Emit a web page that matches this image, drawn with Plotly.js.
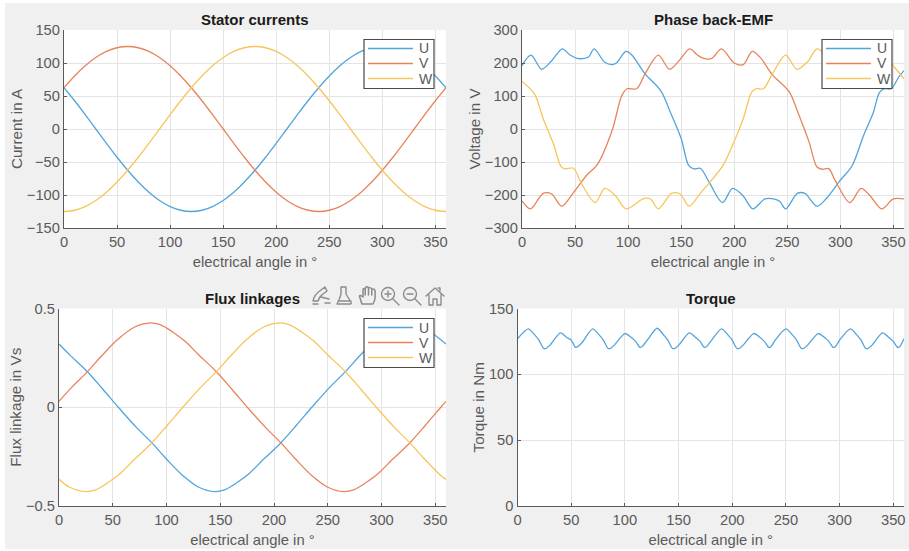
<!DOCTYPE html>
<html><head><meta charset="utf-8"><script src="https://cdn.plot.ly/plotly-3.0.1.min.js"></script>
<style>html,body{margin:0;padding:0;background:#fff}#c{width:909px;height:551px}</style></head>
<body><div id="c"></div><script>
const W_=909,H_=551;
const seriesNames=['U','V','W'];
const currentAngle=[0,10,20,30,40,50,60,70,80,90,100,110,120,130,140,150,160,170,180,190,200,210,220,230,240,250,260,270,280,290,300,310,320,330,340,350,360];
const currentU=[62.5,42.8,21.7,0,-21.7,-42.8,-62.5,-80.3,-95.8,-108.3,-117.5,-123.1,-125,-123.1,-117.5,-108.3,-95.8,-80.3,-62.5,-42.8,-21.7,0,21.7,42.8,62.5,80.3,95.8,108.3,117.5,123.1,125,123.1,117.5,108.3,95.8,80.3,62.5];
const currentV=[62.5,80.3,95.8,108.3,117.5,123.1,125,123.1,117.5,108.3,95.8,80.3,62.5,42.8,21.7,0,-21.7,-42.8,-62.5,-80.3,-95.8,-108.3,-117.5,-123.1,-125,-123.1,-117.5,-108.3,-95.8,-80.3,-62.5,-42.8,-21.7,0,21.7,42.8,62.5];
const currentW=[-125,-123.1,-117.5,-108.3,-95.8,-80.3,-62.5,-42.8,-21.7,0,21.7,42.8,62.5,80.3,95.8,108.3,117.5,123.1,125,123.1,117.5,108.3,95.8,80.3,62.5,42.8,21.7,0,-21.7,-42.8,-62.5,-80.3,-95.8,-108.3,-117.5,-123.1,-125];

const emfAngleU=[0,8.5,18.5,28,38,45,52,59,63,68,78,85,89,98,103.5,116,131,140,150,157,162,168,177,189,198.5,208.5,217.5,229,237,243,248.5,259.5,266.6,278,287,300,311,322,331,337,342,348,355,360];
const emfU=[192,224,181,207,243,225,214,214,219,243,202,195,200,235,224,167,115,49,-29,-110,-121,-119,-165,-223,-180,-203,-242,-212,-212,-220,-242,-195,-195,-234,-210,-155,-112,-19,49,111,122,122,157,177];
const emfAngleV=[0,8,20,28,37.5,48,61,71,85,94,99,108,116,128.5,139,148,158,165,171,179,188,200,208.5,217,224.5,236,252,260.5,270.5,278,283,289,295,309,319.5,328,339,350,360];
const emfV=[-218,-242,-195,-197,-234,-195,-140,-108,-4,101,122,122,167,224,181,207,243,225,214,214,243,200,195,235,217,164,112,46,-39,-115,-122,-120,-155,-223,-180,-202,-242,-212,-212];
const emfAngleW=[0,11.6,20,29.5,37,40.5,48.5,56,69,78,88,98,114.5,121,128.5,141,149,157.5,168,182,190,200.5,208.5,216.5,221,227.5,235.5,248.5,259,270,278,291,299,308,318,325,329,338,351,360];
const emfW=[144,107,31,-44,-115,-121,-119,-165,-223,-180,-202,-242,-211,-212,-242,-195,-197,-234,-195,-142,-107,-34,31,112,122,122,164,224,181,207,243,214,214,243,202,195,200,235,187,152];

const fluxAngleU=[0,10,26,41,56,72,86,100,115,130,145,154,166,177,190,206,221,236,252,266,280,295,310,325,334,346,360];
const fluxU=[.32,.265,.182,.09,-.005,-.102,-.178,-.262,-.345,-.405,-.427,-.418,-.38,-.335,-.265,-.182,-.09,.005,.102,.178,.262,.345,.405,.427,.418,.38,.32];
const fluxAngleV=[0,12,26,40,55,70,85,94,106,117,130,146,161,176,192,206,220,235,250,265,274,286,297,310,326,341,356,360];
const fluxV=[.03,.102,.178,.262,.345,.405,.427,.418,.38,.335,.265,.182,.09,-.005,-.102,-.178,-.262,-.345,-.405,-.427,-.418,-.38,-.335,-.265,-.182,-.09,.005,.03];
const fluxAngleW=[0,10,25,34,46,57,70,86,101,116,132,146,160,175,190,205,214,226,237,250,266,281,296,312,326,340,355,360];
const fluxW=[-.365,-.405,-.427,-.418,-.38,-.335,-.265,-.182,-.09,.005,.102,.178,.262,.345,.405,.427,.418,.38,.335,.265,.182,.09,-.005,-.102,-.178,-.262,-.345,-.365];

const torqueAngle=[0,10,16,20,24,26,30,40,46,50,54,56,60,70,76,80,84,86,90,100,106,110,114,116,120,130,136,140,144,146,150,160,166,170,174,176,180,190,196,200,204,206,210,220,226,230,234,236,240,250,256,260,264,266,270,280,286,290,294,296,300,310,316,320,324,326,330,340,346,350,354,356,360];
const torque=[127,134.5,130,126,120,119.5,122,131.5,128,126,120.5,121,124,134.5,130,126,120,119.5,122,131,128,125,120.5,121,125,135,130,126,120,119.5,122,131.5,128,125,120.5,121,125,134.5,130,126,120,119.5,122,131,128,125,120.5,121,126,134.5,130,126,120,119.5,122,131,128,125,120.5,121,126,134.5,130,126,120,119.5,122,131.5,128,125,120.5,121,127];

const colors=['#52a4dc','#e8845c','#f7c55c'];
const axisCol='#5a5a5a',gridCol='#e4e4e4',textCol='#5a5a5a';
const font='"Liberation Sans",Arial,sans-serif';

function line(x,y,i,ax,sm){return {x:x,y:y,name:seriesNames[i],type:'scatter',mode:'lines',xaxis:'x'+ax,yaxis:'y'+ax,showlegend:false,hoverinfo:'skip',
  line:{color:colors[i],width:1.3,shape:'spline',smoothing:sm}};}
const data=[
 line(currentAngle,currentU,0,'',1),line(currentAngle,currentV,1,'',1),line(currentAngle,currentW,2,'',1),
 line(emfAngleU,emfU,0,'2',.9),line(emfAngleV,emfV,1,'2',.9),line(emfAngleW,emfW,2,'2',.9),
 line(fluxAngleU,fluxU,0,'3',1),line(fluxAngleV,fluxV,1,'3',1),line(fluxAngleW,fluxW,2,'3',1),
 line(torqueAngle,torque,0,'4',.7)
];
const fx=p=>p/W_, fy=p=>1-p/H_;
function xax(l,r,anchor){return {domain:[fx(l),fx(r)],range:[0,360],dtick:50,tick0:0,anchor:anchor,showgrid:true,gridcolor:gridCol,gridwidth:1.3,zeroline:false,showline:true,linecolor:axisCol,linewidth:1.3,ticks:'inside',ticklen:3,tickcolor:axisCol,tickfont:{size:14.7,color:textCol,family:font},title:{text:'electrical angle in °',font:{size:14.8,color:textCol,family:font},standoff:7},automargin:false};}
function yax(t,b,range,dt,title,anchor){return {domain:[fy(b),fy(t)],range:range,dtick:dt,anchor:anchor,showgrid:true,gridcolor:gridCol,gridwidth:1.3,zeroline:false,showline:true,linecolor:axisCol,linewidth:1.3,ticks:'inside',ticklen:3,tickcolor:axisCol,tickfont:{size:14.7,color:textCol,family:font},title:{text:title,font:{size:15.2,color:textCol,family:font},standoff:0},automargin:false};}
function ttl(t,x,y){return {text:'<b>'+t+'</b>',xref:'paper',yref:'paper',x:fx(x),y:fy(y),xanchor:'center',yanchor:'middle',showarrow:false,font:{size:15,color:'#1a1a1a',family:font}};}
function panel(l,r,t,b){return {type:'rect',xref:'paper',yref:'paper',x0:fx(l),x1:fx(r),y0:fy(b),y1:fy(t),fillcolor:'#fff',line:{width:0},layer:'below'};}
const legendShapes=[],legendLabels=[];
function addLegend(x,y,rows){
 legendShapes.push({type:'rect',xref:'paper',yref:'paper',x0:fx(x),x1:fx(x+70),y0:fy(y+49),y1:fy(y),fillcolor:'#fff',line:{color:'#4a4a4a',width:1.2},layer:'above'});
 seriesNames.forEach((n,i)=>{
  legendShapes.push({type:'line',xref:'paper',yref:'paper',x0:fx(x+4),x1:fx(x+49),y0:fy(y+rows[i]),y1:fy(y+rows[i]),line:{color:colors[i],width:1.3},layer:'above'});
  legendLabels.push({text:n,xref:'paper',yref:'paper',x:fx(x+53),y:fy(y+rows[i]),xanchor:'left',yanchor:'middle',showarrow:false,font:{size:14,color:textCol,family:font}});
 });
}
addLegend(364,39.5,[9,24,39]);addLegend(822,39.5,[9,24,39]);addLegend(364,318.5,[9,24,39]);
const iconSvg="<svg xmlns='http://www.w3.org/2000/svg' width='136' height='20' viewBox='0 0 136 20'><g fill='none' stroke='#8c8c8c' stroke-width='1.4' stroke-linejoin='round' stroke-linecap='round'>"
 +"<path d='M2 15 C3 9 7 6 10 4 L14 1 L16 5 L12 8 C9 10 8 11 7 15 Z M10 11 L18 13 M14 17 L19 17 M2 18 H7'/>"
 +"<path d='M30 1 H35 V8 L40 16 C41 18 39 18 38 18 H26 L28 14 L30 8 Z M27 15 H40'/>"
 +"<g transform='translate(2.5,0) scale(1.1,1)'><path d='M44 18 L42 11 C41 9 43 9 45 11 V4 C45 2 47 2 47 4 V3 C47 0 50 0 50 3 V3 C50 1 53 1 53 4 C53 2 56 3 56 5 V11 C56 15 55 16 54 18 Z M47 4 V9 M50 3 V9 M53 4 V9'/></g>"
 +"<circle cx='77' cy='8' r='6.5'/><path d='M82 13 L88 19 M74 8 H80 M77 5 V11'/>"
 +"<circle cx='99' cy='8' r='6.5'/><path d='M104 13 L110 19 M96 8 H102'/>"
 +"<path d='M115 10 L124 2 L133 10 M118 9 V19 H122 V13 H126 V19 H130 V9 M127 2 H129 V5'/></g></svg>";
const layout={width:W_,height:H_,margin:{l:0,r:0,t:0,b:0},paper_bgcolor:'#fff',plot_bgcolor:'#fff',showlegend:false,font:{family:font},
 xaxis:xax(64,446,'y'),yaxis:yax(30,228,[-150,150],50,'Current in A','x'),
 xaxis2:xax(522,904,'y2'),yaxis2:yax(30,228,[-300,300],100,'Voltage in V','x2'),
 xaxis3:xax(59,446,'y3'),yaxis3:yax(308.5,506,[-.5,.5],.5,'Flux linkage in Vs','x3'),
 xaxis4:xax(517.5,904,'y4'),yaxis4:yax(308.5,506,[0,150],50,'Torque in Nm','x4'),
 shapes:[{type:'rect',xref:'paper',yref:'paper',x0:fx(5),x1:1,y0:fy(549),y1:fy(3),fillcolor:'#f0f0f0',line:{width:0},layer:'below'},
  panel(64,446,30,228),panel(522,904,30,228),panel(59,446,308.5,506),panel(517.5,904,308.5,506)].concat(legendShapes),
 annotations:[ttl('Stator currents',255,20),ttl('Phase back-EMF',713,20),ttl('Flux linkages',252,298),ttl('Torque',711,298)].concat(legendLabels),
 images:[{source:'data:image/svg+xml;utf8,'+encodeURIComponent(iconSvg),xref:'paper',yref:'paper',x:fx(311),y:fy(286),sizex:136/W_,sizey:20/H_,xanchor:'left',yanchor:'top',sizing:'stretch',layer:'above'}]
};
Plotly.newPlot('c',data,layout,{displayModeBar:false});
</script></body></html>
